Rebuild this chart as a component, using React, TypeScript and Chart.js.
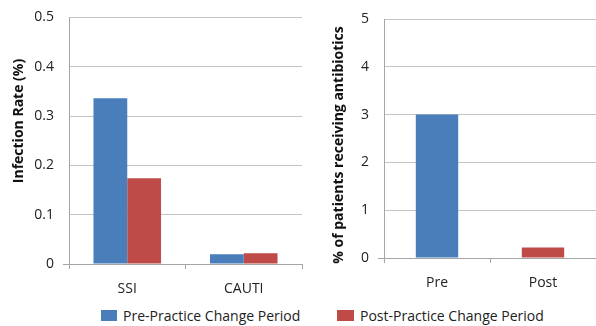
import React, { useEffect, useRef } from "react";
import { Chart, registerables } from "chart.js";

Chart.register(...registerables);

const leftCategories = ["SSI", "CAUTI"];
const prePeriod = [0.336, 0.02];
const postPeriod = [0.174, 0.022];

const rightCategories = ["Pre", "Post"];
const antibioticValues = [3.0, 0.22];

const legendLabels = ["Pre-Practice Change Period", "Post-Practice Change Period"];
const leftTitle = "Infection Rate (%)";
const rightTitle = "% of patients receiving antibiotics";

const BLUE = "#4a7ebb";
const RED = "#be4b48";
const GRID = "#c4c4c4";
const AXIS = "#a6a6a6";
const FONT = "'Open Sans', sans-serif";

const sideTitle = {
  id: "sideTitle",
  afterDraw(chart: any, _args: any, opts: any) {
    const ctx = chart.ctx;
    ctx.save();
    ctx.translate(opts.x, opts.y);
    ctx.rotate(-Math.PI / 2);
    ctx.font = `bold 14px ${FONT}`;
    ctx.fillStyle = "#111";
    ctx.textAlign = "center";
    ctx.textBaseline = "middle";
    ctx.fillText(opts.text, 0, 0);
    ctx.restore();
  },
};

export default function App() {
  const leftRef = useRef<HTMLCanvasElement>(null);
  const rightRef = useRef<HTMLCanvasElement>(null);

  useEffect(() => {
    document.body.style.margin = "0";
    Chart.defaults.font.family = FONT;
    Chart.defaults.color = "#333";

    const zeroTick = (ctx: any) => (ctx.tick && ctx.tick.value === 0 ? AXIS : "rgba(0,0,0,0)");

    const left = new Chart(leftRef.current!, {
      type: "bar",
      data: {
        labels: leftCategories,
        datasets: [
          { label: legendLabels[0], data: prePeriod, backgroundColor: BLUE },
          { label: legendLabels[1], data: postPeriod, backgroundColor: RED },
        ],
      },
      plugins: [sideTitle],
      options: {
        animation: false,
        responsive: false,
        layout: { padding: { top: 17, right: 8, left: 0, bottom: 0 } },
        plugins: {
          legend: { display: false },
          tooltip: { enabled: false },
          sideTitle: { text: leftTitle, x: 19, y: 121 },
        } as any,
        datasets: { bar: { categoryPercentage: 0.58, barPercentage: 1 } },
        scales: {
          x: {
            grid: { drawOnChartArea: false, color: AXIS, tickLength: 5 },
            border: { color: AXIS },
            ticks: { font: { size: 14 }, padding: 12, color: "#222" },
            afterFit: (s: any) => { s.height = 36; },
          },
          y: {
            min: 0,
            max: 0.5,
            ticks: { stepSize: 0.1, font: { size: 14 }, padding: 9, color: "#222" },
            grid: { color: GRID, tickLength: 6, tickColor: zeroTick },
            border: { color: AXIS },
            afterFit: (s: any) => { s.width = 69; },
          },
        },
      },
    });

    const right = new Chart(rightRef.current!, {
      type: "bar",
      data: {
        labels: rightCategories,
        datasets: [
          { label: "antibiotics", data: antibioticValues, backgroundColor: [BLUE, RED] },
        ],
      },
      plugins: [sideTitle],
      options: {
        animation: false,
        responsive: false,
        layout: { padding: { top: 19, right: 0, left: 0, bottom: 0 } },
        plugins: {
          legend: { display: false },
          tooltip: { enabled: false },
          sideTitle: { text: rightTitle, x: 29, y: 145 },
        } as any,
        datasets: { bar: { categoryPercentage: 0.4, barPercentage: 1 } },
        scales: {
          x: {
            grid: { drawOnChartArea: false, color: AXIS, tickLength: 5 },
            border: { color: AXIS },
            ticks: { font: { size: 14 }, padding: 12, color: "#222" },
            afterFit: (s: any) => { s.height = 36; },
          },
          y: {
            min: 0,
            max: 5,
            ticks: { stepSize: 1, font: { size: 14 }, padding: 9, color: "#222" },
            grid: { color: GRID, tickLength: 6, tickColor: zeroTick },
            border: { color: AXIS },
            afterFit: (s: any) => { s.width = 74; },
          },
        },
      },
    });

    return () => {
      left.destroy();
      right.destroy();
    };
  }, []);

  const legendText: React.CSSProperties = {
    position: "absolute",
    top: 306,
    fontFamily: FONT,
    fontSize: 14,
    lineHeight: "20px",
    color: "#222",
    whiteSpace: "nowrap",
  };

  return (
    <div style={{ position: "relative", width: 596, height: 326, background: "#fff", overflow: "hidden" }}>
      <canvas ref={leftRef} width={310} height={300} style={{ position: "absolute", left: 0, top: 0, width: 310, height: 300 }} />
      <canvas ref={rightRef} width={286} height={294} style={{ position: "absolute", left: 310, top: 0, width: 286, height: 294 }} />
      <div style={{ position: "absolute", left: 101, top: 310, width: 16, height: 11, background: BLUE }} />
      <div style={{ ...legendText, left: 123 }}>{legendLabels[0]}</div>
      <div style={{ position: "absolute", left: 337, top: 310, width: 17, height: 11, background: RED }} />
      <div style={{ ...legendText, left: 360 }}>{legendLabels[1]}</div>
    </div>
  );
}
